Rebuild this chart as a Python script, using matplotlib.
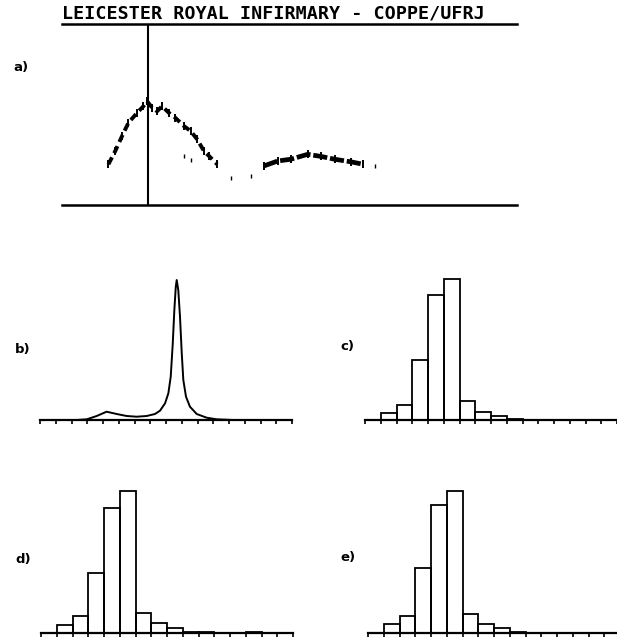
import matplotlib
matplotlib.use("Agg")
import matplotlib.pyplot as plt

W, H = 617, 639

title = "LEICESTER ROYAL INFIRMARY - COPPE/UFRJ"

# a) recorded signal (read off the trace, arbitrary units 0-100)
a_rise_x = [10.2, 11.7, 13.2, 14.6, 16.5, 17.9, 18.7, 19.8, 20.9, 22.0, 23.5, 24.9, 26.8, 28.3, 29.7, 31.2, 32.3, 34.1]
a_rise_y = [22.5, 29.8, 38.1, 45.4, 50.9, 54.6, 57.3, 53.8, 51.8, 54.6, 50.9, 48.2, 43.6, 40.8, 36.3, 29.8, 27.1, 22.5]
a_hump_x = [44.4, 47.4, 50.3, 54.0, 57.0, 59.9, 63.6, 66.2]
a_hump_y = [21.6, 24.3, 25.3, 28.0, 26.8, 25.3, 23.8, 22.5]
a_stray_x = [26.8, 28.3, 37.1, 41.5, 68.7]
a_stray_y = [26.8, 25.0, 14.8, 16.1, 21.6]
a_marker = 18.8

# b) spectrum curve
b_x = [0, 2.33, 2.97, 3.6, 4.23, 4.87, 5.5, 6.14, 6.77, 7.3, 7.62, 7.94, 8.15, 8.3, 8.43, 8.53,
       8.62, 8.68, 8.78, 8.89, 9.0, 9.1, 9.27, 9.52, 9.95, 10.58, 11.22, 12.25, 16]
b_y = [0, 0, 0.7, 4, 8.3, 6, 4, 3.3, 4, 6, 9.3, 16.7, 26.7, 43.3, 76.7, 110,
       133, 140, 130, 103, 66.7, 40, 23.3, 13.3, 6, 2.3, 0.7, 0, 0]

# c), d), e) histograms, one bin per tick interval starting at bin 1
c_counts = [7, 15, 60, 125, 141, 19, 8, 4, 1, 0.5, 0.5, 0.5, 0.5, 0.5, 0.5]
d_counts = [8, 17, 60, 125, 142, 20, 10, 5, 1.5, 1, 0.5, 0.5, 1, 0.5, 0.5]
e_counts = [9, 17, 65, 128, 142, 19, 9, 5, 1, 0.5, 0.5, 0.5, 0.5, 0.5, 0.5]

fig = plt.figure(figsize=(W / 100, H / 100), dpi=100)


def box(x0, y_top, x1, y_bot):
    return [x0 / W, 1 - y_bot / H, (x1 - x0) / W, (y_bot - y_top) / H]


# panel a
ax = fig.add_axes(box(62, 24, 517, 205))
ax.set_xlim(0, 100)
ax.set_ylim(0, 100)
for s in ["left", "right"]:
    ax.spines[s].set_visible(False)
for s in ["top", "bottom"]:
    ax.spines[s].set_linewidth(1.8)
ax.set_xticks([])
ax.set_yticks([])
ax.axvline(a_marker, color="k", lw=1.5)
ax.plot(a_rise_x, a_rise_y, color="k", lw=2.8, ls=(0, (2, 1.2)), marker="|", ms=6, mew=1.4)
ax.plot(a_hump_x, a_hump_y, color="k", lw=3.4, ls=(0, (3, 0.6)), marker="|", ms=6, mew=1.4)
ax.plot(a_stray_x, a_stray_y, ls="none", marker="|", ms=3, mew=1, color="k")

fig.text(62 / W, 1 - 19 / H, title, family="DejaVu Sans Mono", weight="bold",
         fontsize=13.2, ha="left", va="baseline")


def bottom_axes(x0, baseline):
    ax = fig.add_axes(box(x0, baseline - 145, x0 + 252, baseline))
    ax.set_xlim(0, 16)
    ax.set_ylim(0, 145)
    for s in ["left", "right", "top"]:
        ax.spines[s].set_visible(False)
    ax.spines["bottom"].set_linewidth(1.6)
    ax.set_xticks(range(17))
    ax.set_xticklabels([])
    ax.set_yticks([])
    ax.tick_params(axis="x", direction="out", length=3, width=1.2)
    ax.patch.set_alpha(0)
    return ax


ax_b = bottom_axes(40, 420)
ax_b.plot(b_x, b_y, color="k", lw=1.4)

for x0, baseline, counts in [(365, 420, c_counts), (41, 633, d_counts), (368, 633, e_counts)]:
    axh = bottom_axes(x0, baseline)
    left = list(range(1, len(counts) + 1))
    axh.bar(left, counts, width=1, align="edge", fill=False, edgecolor="k", lw=1.3)

for lab, px, py in [("a)", 13, 67), ("b)", 15, 350), ("c)", 340, 347),
                    ("d)", 15, 560), ("e)", 340, 558)]:
    fig.text(px / W, 1 - py / H, lab, weight="bold", fontsize=9.5, ha="left", va="center")

plt.savefig("out.png", dpi=100)
